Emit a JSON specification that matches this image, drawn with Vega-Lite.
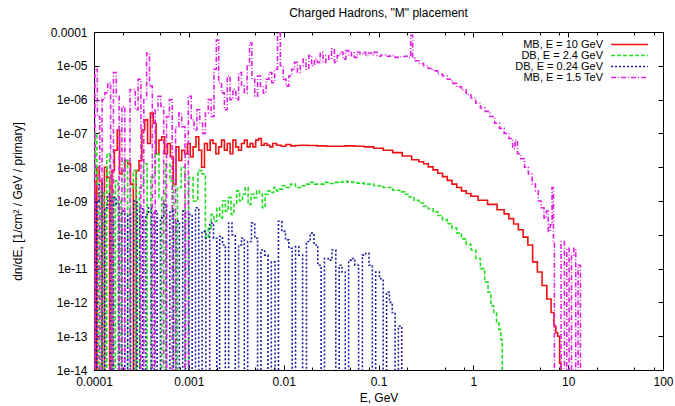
{
  "$schema": "https://vega.github.io/schema/vega-lite/v6.json",
  "width": 569,
  "height": 338,
  "autosize": {"type": "none"},
  "padding": {"left": 94, "top": 32, "right": 12, "bottom": 36},
  "background": "white",
  "config": {
    "font": "Liberation Sans",
    "view": {"stroke": "black", "strokeWidth": 1},
    "axis": {"grid": false, "domain": false, "labelFont": "Liberation Sans", "labelFontSize": 12, "labelColor": "black", "titleFont": "Liberation Sans", "titleFontSize": 12, "titleFontWeight": "normal", "titleColor": "black", "tickColor": "black", "labelFlush": false, "labelOverlap": false}
  },
  "title": {"text": "Charged Hadrons,  \"M\" placement", "fontSize": 12, "fontWeight": "normal", "font": "Liberation Sans", "offset": 6, "color": "black"},
  "datasets": {
    "d": [
      {"s":"MB, E = 10 GeV","E":1e-4,"v":3.98e-9},{"s":"MB, E = 10 GeV","E":1.047e-4,"v":1e-16},{"s":"MB, E = 10 GeV","E":1.096e-4,"v":1e-8},{"s":"MB, E = 10 GeV","E":1.175e-4,"v":3.98e-9},{"s":"MB, E = 10 GeV","E":1.259e-4,"v":1e-16},{"s":"MB, E = 10 GeV","E":1.318e-4,"v":1e-8},{"s":"MB, E = 10 GeV","E":1.413e-4,"v":5.01e-9},{"s":"MB, E = 10 GeV","E":1.514e-4,"v":1e-16},{"s":"MB, E = 10 GeV","E":1.585e-4,"v":7.94e-9},{"s":"MB, E = 10 GeV","E":1.698e-4,"v":3.16e-8},{"s":"MB, E = 10 GeV","E":1.82e-4,"v":1.26e-7},{"s":"MB, E = 10 GeV","E":1.905e-4,"v":6.31e-9},{"s":"MB, E = 10 GeV","E":2.042e-4,"v":7.94e-9},{"s":"MB, E = 10 GeV","E":2.188e-4,"v":1.58e-8},{"s":"MB, E = 10 GeV","E":2.344e-4,"v":1.26e-8},{"s":"MB, E = 10 GeV","E":2.512e-4,"v":3.16e-9},{"s":"MB, E = 10 GeV","E":2.692e-4,"v":1e-16},{"s":"MB, E = 10 GeV","E":2.884e-4,"v":7.94e-9},{"s":"MB, E = 10 GeV","E":3.09e-4,"v":1.58e-8},{"s":"MB, E = 10 GeV","E":3.311e-4,"v":1.26e-7},{"s":"MB, E = 10 GeV","E":3.548e-4,"v":2.51e-7},{"s":"MB, E = 10 GeV","E":3.802e-4,"v":5.01e-8},{"s":"MB, E = 10 GeV","E":4.074e-4,"v":3.98e-7},{"s":"MB, E = 10 GeV","E":4.365e-4,"v":2e-7},{"s":"MB, E = 10 GeV","E":4.677e-4,"v":2.51e-8},{"s":"MB, E = 10 GeV","E":5.012e-4,"v":6.31e-8},{"s":"MB, E = 10 GeV","E":5.37e-4,"v":7.94e-8},{"s":"MB, E = 10 GeV","E":5.754e-4,"v":2.51e-8},{"s":"MB, E = 10 GeV","E":6.166e-4,"v":5.01e-8},{"s":"MB, E = 10 GeV","E":6.607e-4,"v":2e-8},{"s":"MB, E = 10 GeV","E":7.079e-4,"v":3.16e-9},{"s":"MB, E = 10 GeV","E":7.586e-4,"v":3.98e-8},{"s":"MB, E = 10 GeV","E":8.128e-4,"v":1.58e-8},{"s":"MB, E = 10 GeV","E":8.71e-4,"v":3.16e-8},{"s":"MB, E = 10 GeV","E":9.333e-4,"v":2.51e-8},{"s":"MB, E = 10 GeV","E":1e-3,"v":5.01e-8},{"s":"MB, E = 10 GeV","E":1.072e-3,"v":2e-8},{"s":"MB, E = 10 GeV","E":1.148e-3,"v":3.98e-8},{"s":"MB, E = 10 GeV","E":1.23e-3,"v":7.94e-8},{"s":"MB, E = 10 GeV","E":1.318e-3,"v":3.16e-8},{"s":"MB, E = 10 GeV","E":1.413e-3,"v":1e-8},{"s":"MB, E = 10 GeV","E":1.514e-3,"v":5.01e-8},{"s":"MB, E = 10 GeV","E":1.622e-3,"v":3.16e-8},{"s":"MB, E = 10 GeV","E":1.738e-3,"v":6.31e-8},{"s":"MB, E = 10 GeV","E":1.862e-3,"v":5.01e-8},{"s":"MB, E = 10 GeV","E":1.995e-3,"v":2.51e-8},{"s":"MB, E = 10 GeV","E":2.138e-3,"v":3.98e-8},{"s":"MB, E = 10 GeV","E":2.291e-3,"v":6.31e-8},{"s":"MB, E = 10 GeV","E":2.455e-3,"v":3.16e-8},{"s":"MB, E = 10 GeV","E":2.63e-3,"v":5.01e-8},{"s":"MB, E = 10 GeV","E":2.818e-3,"v":2.51e-8},{"s":"MB, E = 10 GeV","E":3.02e-3,"v":6.31e-8},{"s":"MB, E = 10 GeV","E":3.236e-3,"v":3.98e-8},{"s":"MB, E = 10 GeV","E":3.467e-3,"v":3.16e-8},{"s":"MB, E = 10 GeV","E":3.715e-3,"v":5.01e-8},{"s":"MB, E = 10 GeV","E":3.981e-3,"v":6.31e-8},{"s":"MB, E = 10 GeV","E":4.266e-3,"v":3.98e-8},{"s":"MB, E = 10 GeV","E":4.571e-3,"v":5.01e-8},{"s":"MB, E = 10 GeV","E":4.898e-3,"v":3.98e-8},{"s":"MB, E = 10 GeV","E":5.248e-3,"v":6.31e-8},{"s":"MB, E = 10 GeV","E":5.623e-3,"v":7.08e-8},{"s":"MB, E = 10 GeV","E":6.026e-3,"v":4.47e-8},{"s":"MB, E = 10 GeV","E":6.457e-3,"v":5.01e-8},{"s":"MB, E = 10 GeV","E":6.918e-3,"v":4.47e-8},{"s":"MB, E = 10 GeV","E":7.413e-3,"v":3.98e-8},{"s":"MB, E = 10 GeV","E":7.943e-3,"v":5.01e-8},{"s":"MB, E = 10 GeV","E":8.913e-3,"v":4.47e-8},{"s":"MB, E = 10 GeV","E":0.01,"v":4.17e-8},{"s":"MB, E = 10 GeV","E":0.01122,"v":4.68e-8},{"s":"MB, E = 10 GeV","E":0.01259,"v":4.27e-8},{"s":"MB, E = 10 GeV","E":0.01413,"v":4.37e-8},{"s":"MB, E = 10 GeV","E":0.01585,"v":4.47e-8},{"s":"MB, E = 10 GeV","E":0.01995,"v":4.37e-8},{"s":"MB, E = 10 GeV","E":0.02512,"v":4.27e-8},{"s":"MB, E = 10 GeV","E":0.03162,"v":4.17e-8},{"s":"MB, E = 10 GeV","E":0.03981,"v":4.17e-8},{"s":"MB, E = 10 GeV","E":0.05012,"v":4.27e-8},{"s":"MB, E = 10 GeV","E":0.0631,"v":4.17e-8},{"s":"MB, E = 10 GeV","E":0.07943,"v":3.98e-8},{"s":"MB, E = 10 GeV","E":0.1,"v":3.63e-8},{"s":"MB, E = 10 GeV","E":0.1259,"v":3.16e-8},{"s":"MB, E = 10 GeV","E":0.1585,"v":2.69e-8},{"s":"MB, E = 10 GeV","E":0.1995,"v":2.14e-8},{"s":"MB, E = 10 GeV","E":0.2512,"v":1.66e-8},{"s":"MB, E = 10 GeV","E":0.2818,"v":1.45e-8},{"s":"MB, E = 10 GeV","E":0.3162,"v":1.26e-8},{"s":"MB, E = 10 GeV","E":0.3548,"v":1.02e-8},{"s":"MB, E = 10 GeV","E":0.3981,"v":8.32e-9},{"s":"MB, E = 10 GeV","E":0.4467,"v":6.61e-9},{"s":"MB, E = 10 GeV","E":0.5012,"v":5.25e-9},{"s":"MB, E = 10 GeV","E":0.5623,"v":4.07e-9},{"s":"MB, E = 10 GeV","E":0.631,"v":3.16e-9},{"s":"MB, E = 10 GeV","E":0.7079,"v":2.51e-9},{"s":"MB, E = 10 GeV","E":0.7943,"v":2e-9},{"s":"MB, E = 10 GeV","E":0.8913,"v":1.66e-9},{"s":"MB, E = 10 GeV","E":1,"v":1.38e-9},{"s":"MB, E = 10 GeV","E":1.259,"v":1.05e-9},{"s":"MB, E = 10 GeV","E":1.585,"v":7.94e-10},{"s":"MB, E = 10 GeV","E":1.995,"v":5.5e-10},{"s":"MB, E = 10 GeV","E":2.239,"v":4.17e-10},{"s":"MB, E = 10 GeV","E":2.512,"v":3.02e-10},{"s":"MB, E = 10 GeV","E":2.818,"v":2.09e-10},{"s":"MB, E = 10 GeV","E":3.162,"v":1.41e-10},{"s":"MB, E = 10 GeV","E":3.548,"v":8.51e-11},{"s":"MB, E = 10 GeV","E":3.981,"v":5.01e-11},{"s":"MB, E = 10 GeV","E":4.467,"v":1.58e-11},{"s":"MB, E = 10 GeV","E":5.012,"v":7.94e-12},{"s":"MB, E = 10 GeV","E":5.623,"v":3.16e-12},{"s":"MB, E = 10 GeV","E":6.31,"v":1.26e-12},{"s":"MB, E = 10 GeV","E":6.918,"v":5.01e-13},{"s":"MB, E = 10 GeV","E":7.244,"v":2e-13},{"s":"MB, E = 10 GeV","E":7.586,"v":1.26e-13},{"s":"MB, E = 10 GeV","E":7.943,"v":1e-13},{"s":"MB, E = 10 GeV","E":8.318,"v":1.58e-14},{"s":"MB, E = 10 GeV","E":8.511,"v":1e-16},

      {"s":"DB, E = 2.4 GeV","E":1e-4,"v":5.01e-9},{"s":"DB, E = 2.4 GeV","E":1.047e-4,"v":1e-7},{"s":"DB, E = 2.4 GeV","E":1.096e-4,"v":3.16e-9},{"s":"DB, E = 2.4 GeV","E":1.148e-4,"v":1e-16},{"s":"DB, E = 2.4 GeV","E":1.23e-4,"v":2e-9},{"s":"DB, E = 2.4 GeV","E":1.318e-4,"v":1e-16},{"s":"DB, E = 2.4 GeV","E":1.413e-4,"v":2.51e-8},{"s":"DB, E = 2.4 GeV","E":1.514e-4,"v":1.58e-9},{"s":"DB, E = 2.4 GeV","E":1.622e-4,"v":1e-16},{"s":"DB, E = 2.4 GeV","E":1.738e-4,"v":3.98e-9},{"s":"DB, E = 2.4 GeV","E":1.862e-4,"v":1e-16},{"s":"DB, E = 2.4 GeV","E":1.995e-4,"v":1e-9},{"s":"DB, E = 2.4 GeV","E":2.188e-4,"v":1.58e-8},{"s":"DB, E = 2.4 GeV","E":2.344e-4,"v":1e-16},{"s":"DB, E = 2.4 GeV","E":2.512e-4,"v":2.51e-9},{"s":"DB, E = 2.4 GeV","E":2.692e-4,"v":7.94e-9},{"s":"DB, E = 2.4 GeV","E":2.884e-4,"v":1e-16},{"s":"DB, E = 2.4 GeV","E":3.162e-4,"v":2.51e-9},{"s":"DB, E = 2.4 GeV","E":3.467e-4,"v":1.26e-8},{"s":"DB, E = 2.4 GeV","E":3.802e-4,"v":1e-16},{"s":"DB, E = 2.4 GeV","E":4.169e-4,"v":5.01e-9},{"s":"DB, E = 2.4 GeV","E":4.677e-4,"v":2.51e-8},{"s":"DB, E = 2.4 GeV","E":5.012e-4,"v":1.26e-9},{"s":"DB, E = 2.4 GeV","E":5.37e-4,"v":1e-16},{"s":"DB, E = 2.4 GeV","E":6.026e-4,"v":1.26e-8},{"s":"DB, E = 2.4 GeV","E":6.607e-4,"v":3.98e-9},{"s":"DB, E = 2.4 GeV","E":7.244e-4,"v":1e-16},{"s":"DB, E = 2.4 GeV","E":7.943e-4,"v":2.51e-9},{"s":"DB, E = 2.4 GeV","E":8.71e-4,"v":1e-8},{"s":"DB, E = 2.4 GeV","E":9.55e-4,"v":1e-16},{"s":"DB, E = 2.4 GeV","E":1.047e-3,"v":5.01e-9},{"s":"DB, E = 2.4 GeV","E":1.175e-3,"v":1e-9},{"s":"DB, E = 2.4 GeV","E":1.318e-3,"v":7.94e-9},{"s":"DB, E = 2.4 GeV","E":1.445e-3,"v":6.31e-9},{"s":"DB, E = 2.4 GeV","E":1.549e-3,"v":7.94e-11},{"s":"DB, E = 2.4 GeV","E":1.66e-3,"v":1.58e-10},{"s":"DB, E = 2.4 GeV","E":1.778e-3,"v":3.98e-10},{"s":"DB, E = 2.4 GeV","E":1.905e-3,"v":2.51e-10},{"s":"DB, E = 2.4 GeV","E":2.042e-3,"v":6.31e-10},{"s":"DB, E = 2.4 GeV","E":2.188e-3,"v":3.16e-10},{"s":"DB, E = 2.4 GeV","E":2.344e-3,"v":1e-9},{"s":"DB, E = 2.4 GeV","E":2.512e-3,"v":5.01e-10},{"s":"DB, E = 2.4 GeV","E":2.692e-3,"v":1.26e-9},{"s":"DB, E = 2.4 GeV","E":2.884e-3,"v":3.98e-10},{"s":"DB, E = 2.4 GeV","E":3.09e-3,"v":7.94e-10},{"s":"DB, E = 2.4 GeV","E":3.311e-3,"v":2e-9},{"s":"DB, E = 2.4 GeV","E":3.548e-3,"v":1e-9},{"s":"DB, E = 2.4 GeV","E":3.802e-3,"v":1.58e-9},{"s":"DB, E = 2.4 GeV","E":4.074e-3,"v":2.51e-9},{"s":"DB, E = 2.4 GeV","E":4.365e-3,"v":7.94e-10},{"s":"DB, E = 2.4 GeV","E":4.677e-3,"v":1.58e-9},{"s":"DB, E = 2.4 GeV","E":5.012e-3,"v":1.26e-9},{"s":"DB, E = 2.4 GeV","E":5.37e-3,"v":2e-9},{"s":"DB, E = 2.4 GeV","E":5.754e-3,"v":1.58e-9},{"s":"DB, E = 2.4 GeV","E":6.166e-3,"v":6.31e-10},{"s":"DB, E = 2.4 GeV","E":6.607e-3,"v":1.58e-9},{"s":"DB, E = 2.4 GeV","E":7.079e-3,"v":2e-9},{"s":"DB, E = 2.4 GeV","E":7.586e-3,"v":1.78e-9},{"s":"DB, E = 2.4 GeV","E":8.128e-3,"v":2.51e-9},{"s":"DB, E = 2.4 GeV","E":8.71e-3,"v":2e-9},{"s":"DB, E = 2.4 GeV","E":9.333e-3,"v":2.24e-9},{"s":"DB, E = 2.4 GeV","E":0.01,"v":2.82e-9},{"s":"DB, E = 2.4 GeV","E":0.01122,"v":2.51e-9},{"s":"DB, E = 2.4 GeV","E":0.01259,"v":3.16e-9},{"s":"DB, E = 2.4 GeV","E":0.01413,"v":2.51e-9},{"s":"DB, E = 2.4 GeV","E":0.01585,"v":2.82e-9},{"s":"DB, E = 2.4 GeV","E":0.01778,"v":3.16e-9},{"s":"DB, E = 2.4 GeV","E":0.01995,"v":3.55e-9},{"s":"DB, E = 2.4 GeV","E":0.02239,"v":3.16e-9},{"s":"DB, E = 2.4 GeV","E":0.02512,"v":3.16e-9},{"s":"DB, E = 2.4 GeV","E":0.02818,"v":3.55e-9},{"s":"DB, E = 2.4 GeV","E":0.03162,"v":3.31e-9},{"s":"DB, E = 2.4 GeV","E":0.03548,"v":3.55e-9},{"s":"DB, E = 2.4 GeV","E":0.03981,"v":3.63e-9},{"s":"DB, E = 2.4 GeV","E":0.04467,"v":3.8e-9},{"s":"DB, E = 2.4 GeV","E":0.05012,"v":3.63e-9},{"s":"DB, E = 2.4 GeV","E":0.05623,"v":3.55e-9},{"s":"DB, E = 2.4 GeV","E":0.0631,"v":3.39e-9},{"s":"DB, E = 2.4 GeV","E":0.07943,"v":3.16e-9},{"s":"DB, E = 2.4 GeV","E":0.1,"v":2.82e-9},{"s":"DB, E = 2.4 GeV","E":0.1259,"v":2.51e-9},{"s":"DB, E = 2.4 GeV","E":0.1585,"v":2.09e-9},{"s":"DB, E = 2.4 GeV","E":0.1778,"v":1.86e-9},{"s":"DB, E = 2.4 GeV","E":0.1995,"v":1.58e-9},{"s":"DB, E = 2.4 GeV","E":0.2239,"v":1.32e-9},{"s":"DB, E = 2.4 GeV","E":0.2512,"v":1.05e-9},{"s":"DB, E = 2.4 GeV","E":0.2818,"v":8.71e-10},{"s":"DB, E = 2.4 GeV","E":0.3162,"v":7.08e-10},{"s":"DB, E = 2.4 GeV","E":0.3548,"v":5.89e-10},{"s":"DB, E = 2.4 GeV","E":0.3981,"v":4.79e-10},{"s":"DB, E = 2.4 GeV","E":0.4467,"v":3.72e-10},{"s":"DB, E = 2.4 GeV","E":0.5012,"v":2.82e-10},{"s":"DB, E = 2.4 GeV","E":0.5623,"v":2.14e-10},{"s":"DB, E = 2.4 GeV","E":0.631,"v":1.58e-10},{"s":"DB, E = 2.4 GeV","E":0.7079,"v":1.12e-10},{"s":"DB, E = 2.4 GeV","E":0.7943,"v":7.59e-11},{"s":"DB, E = 2.4 GeV","E":0.8913,"v":5.25e-11},{"s":"DB, E = 2.4 GeV","E":1,"v":3.55e-11},{"s":"DB, E = 2.4 GeV","E":1.122,"v":2e-11},{"s":"DB, E = 2.4 GeV","E":1.259,"v":1e-11},{"s":"DB, E = 2.4 GeV","E":1.38,"v":3.98e-12},{"s":"DB, E = 2.4 GeV","E":1.479,"v":2e-12},{"s":"DB, E = 2.4 GeV","E":1.585,"v":7.94e-13},{"s":"DB, E = 2.4 GeV","E":1.698,"v":5.01e-13},{"s":"DB, E = 2.4 GeV","E":1.82,"v":2.51e-13},{"s":"DB, E = 2.4 GeV","E":1.905,"v":1.58e-13},{"s":"DB, E = 2.4 GeV","E":1.995,"v":7.94e-14},{"s":"DB, E = 2.4 GeV","E":2.042,"v":1e-16},

      {"s":"DB, E = 0.24 GeV","E":1e-4,"v":1.58e-9},{"s":"DB, E = 0.24 GeV","E":1.047e-4,"v":1e-16},{"s":"DB, E = 0.24 GeV","E":1.096e-4,"v":1e-9},{"s":"DB, E = 0.24 GeV","E":1.175e-4,"v":3.16e-9},{"s":"DB, E = 0.24 GeV","E":1.259e-4,"v":1e-16},{"s":"DB, E = 0.24 GeV","E":1.349e-4,"v":6.31e-10},{"s":"DB, E = 0.24 GeV","E":1.445e-4,"v":1.58e-9},{"s":"DB, E = 0.24 GeV","E":1.549e-4,"v":1e-16},{"s":"DB, E = 0.24 GeV","E":1.66e-4,"v":1.26e-9},{"s":"DB, E = 0.24 GeV","E":1.778e-4,"v":7.94e-10},{"s":"DB, E = 0.24 GeV","E":1.905e-4,"v":1e-16},{"s":"DB, E = 0.24 GeV","E":2.042e-4,"v":5.01e-10},{"s":"DB, E = 0.24 GeV","E":2.188e-4,"v":1e-16},{"s":"DB, E = 0.24 GeV","E":2.344e-4,"v":3.98e-10},{"s":"DB, E = 0.24 GeV","E":2.512e-4,"v":1e-16},{"s":"DB, E = 0.24 GeV","E":2.754e-4,"v":1e-9},{"s":"DB, E = 0.24 GeV","E":2.951e-4,"v":1e-16},{"s":"DB, E = 0.24 GeV","E":3.162e-4,"v":6.31e-10},{"s":"DB, E = 0.24 GeV","E":3.388e-4,"v":1e-16},{"s":"DB, E = 0.24 GeV","E":3.631e-4,"v":3.98e-10},{"s":"DB, E = 0.24 GeV","E":3.89e-4,"v":6.31e-10},{"s":"DB, E = 0.24 GeV","E":4.169e-4,"v":1e-16},{"s":"DB, E = 0.24 GeV","E":4.467e-4,"v":5.01e-10},{"s":"DB, E = 0.24 GeV","E":4.786e-4,"v":1e-16},{"s":"DB, E = 0.24 GeV","E":5.248e-4,"v":3.16e-10},{"s":"DB, E = 0.24 GeV","E":5.623e-4,"v":7.94e-10},{"s":"DB, E = 0.24 GeV","E":6.026e-4,"v":1e-16},{"s":"DB, E = 0.24 GeV","E":6.607e-4,"v":5.01e-10},{"s":"DB, E = 0.24 GeV","E":7.079e-4,"v":1e-16},{"s":"DB, E = 0.24 GeV","E":7.586e-4,"v":2.51e-10},{"s":"DB, E = 0.24 GeV","E":8.318e-4,"v":1e-16},{"s":"DB, E = 0.24 GeV","E":8.913e-4,"v":5.01e-10},{"s":"DB, E = 0.24 GeV","E":9.55e-4,"v":1e-16},{"s":"DB, E = 0.24 GeV","E":1.047e-3,"v":3.98e-10},{"s":"DB, E = 0.24 GeV","E":1.122e-3,"v":1e-16},{"s":"DB, E = 0.24 GeV","E":1.23e-3,"v":6.31e-10},{"s":"DB, E = 0.24 GeV","E":1.318e-3,"v":1e-16},{"s":"DB, E = 0.24 GeV","E":1.445e-3,"v":1.26e-10},{"s":"DB, E = 0.24 GeV","E":1.585e-3,"v":1e-16},{"s":"DB, E = 0.24 GeV","E":1.738e-3,"v":2.24e-10},{"s":"DB, E = 0.24 GeV","E":1.905e-3,"v":7.94e-11},{"s":"DB, E = 0.24 GeV","E":2.042e-3,"v":1e-16},{"s":"DB, E = 0.24 GeV","E":2.188e-3,"v":8.91e-11},{"s":"DB, E = 0.24 GeV","E":2.344e-3,"v":5.01e-11},{"s":"DB, E = 0.24 GeV","E":2.512e-3,"v":1e-16},{"s":"DB, E = 0.24 GeV","E":2.754e-3,"v":2.24e-10},{"s":"DB, E = 0.24 GeV","E":2.951e-3,"v":1e-10},{"s":"DB, E = 0.24 GeV","E":3.236e-3,"v":1e-16},{"s":"DB, E = 0.24 GeV","E":3.467e-3,"v":5.01e-11},{"s":"DB, E = 0.24 GeV","E":3.715e-3,"v":7.94e-11},{"s":"DB, E = 0.24 GeV","E":3.981e-3,"v":1e-16},{"s":"DB, E = 0.24 GeV","E":4.365e-3,"v":6.31e-11},{"s":"DB, E = 0.24 GeV","E":4.786e-3,"v":2.24e-10},{"s":"DB, E = 0.24 GeV","E":5.129e-3,"v":7.94e-11},{"s":"DB, E = 0.24 GeV","E":5.495e-3,"v":1e-16},{"s":"DB, E = 0.24 GeV","E":6.026e-3,"v":3.55e-11},{"s":"DB, E = 0.24 GeV","E":6.607e-3,"v":2.51e-11},{"s":"DB, E = 0.24 GeV","E":7.079e-3,"v":1e-16},{"s":"DB, E = 0.24 GeV","E":7.762e-3,"v":1.58e-11},{"s":"DB, E = 0.24 GeV","E":8.511e-3,"v":1e-16},{"s":"DB, E = 0.24 GeV","E":9.12e-3,"v":2.51e-10},{"s":"DB, E = 0.24 GeV","E":0.01,"v":1.26e-10},{"s":"DB, E = 0.24 GeV","E":0.01096,"v":7.08e-11},{"s":"DB, E = 0.24 GeV","E":0.01175,"v":3.98e-11},{"s":"DB, E = 0.24 GeV","E":0.01288,"v":1e-16},{"s":"DB, E = 0.24 GeV","E":0.0138,"v":4.47e-11},{"s":"DB, E = 0.24 GeV","E":0.01514,"v":2.51e-11},{"s":"DB, E = 0.24 GeV","E":0.0166,"v":1e-16},{"s":"DB, E = 0.24 GeV","E":0.0182,"v":6.31e-11},{"s":"DB, E = 0.24 GeV","E":0.01995,"v":1.12e-10},{"s":"DB, E = 0.24 GeV","E":0.02188,"v":5.01e-11},{"s":"DB, E = 0.24 GeV","E":0.02399,"v":1.26e-11},{"s":"DB, E = 0.24 GeV","E":0.0257,"v":1e-16},{"s":"DB, E = 0.24 GeV","E":0.02818,"v":2e-11},{"s":"DB, E = 0.24 GeV","E":0.0309,"v":1.78e-11},{"s":"DB, E = 0.24 GeV","E":0.03388,"v":3.55e-11},{"s":"DB, E = 0.24 GeV","E":0.03715,"v":1e-16},{"s":"DB, E = 0.24 GeV","E":0.03981,"v":1.26e-11},{"s":"DB, E = 0.24 GeV","E":0.04266,"v":7.94e-12},{"s":"DB, E = 0.24 GeV","E":0.04677,"v":1e-16},{"s":"DB, E = 0.24 GeV","E":0.05012,"v":1.78e-11},{"s":"DB, E = 0.24 GeV","E":0.0537,"v":2e-11},{"s":"DB, E = 0.24 GeV","E":0.05888,"v":1.26e-11},{"s":"DB, E = 0.24 GeV","E":0.06457,"v":1e-16},{"s":"DB, E = 0.24 GeV","E":0.07079,"v":2.51e-11},{"s":"DB, E = 0.24 GeV","E":0.07586,"v":2.82e-11},{"s":"DB, E = 0.24 GeV","E":0.08318,"v":1.26e-11},{"s":"DB, E = 0.24 GeV","E":0.08913,"v":1e-16},{"s":"DB, E = 0.24 GeV","E":0.09772,"v":7.94e-12},{"s":"DB, E = 0.24 GeV","E":0.1072,"v":5.01e-12},{"s":"DB, E = 0.24 GeV","E":0.1175,"v":1e-16},{"s":"DB, E = 0.24 GeV","E":0.1259,"v":2e-12},{"s":"DB, E = 0.24 GeV","E":0.1349,"v":1e-12},{"s":"DB, E = 0.24 GeV","E":0.1445,"v":5.01e-13},{"s":"DB, E = 0.24 GeV","E":0.1549,"v":1e-16},{"s":"DB, E = 0.24 GeV","E":0.1698,"v":2e-13},{"s":"DB, E = 0.24 GeV","E":0.182,"v":1e-16},

      {"s":"MB, E = 1.5 TeV","E":1e-4,"v":1e-16},{"s":"MB, E = 1.5 TeV","E":1.047e-4,"v":7.94e-6},{"s":"MB, E = 1.5 TeV","E":1.122e-4,"v":3.16e-7},{"s":"MB, E = 1.5 TeV","E":1.175e-4,"v":1e-16},{"s":"MB, E = 1.5 TeV","E":1.259e-4,"v":1e-6},{"s":"MB, E = 1.5 TeV","E":1.349e-4,"v":1.58e-6},{"s":"MB, E = 1.5 TeV","E":1.445e-4,"v":3.16e-6},{"s":"MB, E = 1.5 TeV","E":1.549e-4,"v":1e-16},{"s":"MB, E = 1.5 TeV","E":1.66e-4,"v":6.31e-6},{"s":"MB, E = 1.5 TeV","E":1.778e-4,"v":1.26e-6},{"s":"MB, E = 1.5 TeV","E":1.905e-4,"v":1e-16},{"s":"MB, E = 1.5 TeV","E":2.042e-4,"v":6.31e-7},{"s":"MB, E = 1.5 TeV","E":2.188e-4,"v":1e-16},{"s":"MB, E = 1.5 TeV","E":2.63e-4,"v":2e-6},{"s":"MB, E = 1.5 TeV","E":2.818e-4,"v":5.01e-7},{"s":"MB, E = 1.5 TeV","E":3.02e-4,"v":3.98e-6},{"s":"MB, E = 1.5 TeV","E":3.236e-4,"v":1e-16},{"s":"MB, E = 1.5 TeV","E":3.467e-4,"v":1e-6},{"s":"MB, E = 1.5 TeV","E":3.715e-4,"v":2.4e-5},{"s":"MB, E = 1.5 TeV","E":3.981e-4,"v":2.51e-6},{"s":"MB, E = 1.5 TeV","E":4.266e-4,"v":1e-16},{"s":"MB, E = 1.5 TeV","E":4.571e-4,"v":5.01e-7},{"s":"MB, E = 1.5 TeV","E":4.898e-4,"v":1.26e-6},{"s":"MB, E = 1.5 TeV","E":5.248e-4,"v":6.31e-7},{"s":"MB, E = 1.5 TeV","E":5.623e-4,"v":1e-16},{"s":"MB, E = 1.5 TeV","E":6.026e-4,"v":3.16e-7},{"s":"MB, E = 1.5 TeV","E":6.457e-4,"v":1e-6},{"s":"MB, E = 1.5 TeV","E":6.918e-4,"v":1e-16},{"s":"MB, E = 1.5 TeV","E":7.586e-4,"v":1.58e-7},{"s":"MB, E = 1.5 TeV","E":8.128e-4,"v":3.98e-7},{"s":"MB, E = 1.5 TeV","E":8.71e-4,"v":1.58e-7},{"s":"MB, E = 1.5 TeV","E":9.55e-4,"v":1e-16},{"s":"MB, E = 1.5 TeV","E":1.023e-3,"v":1.26e-6},{"s":"MB, E = 1.5 TeV","E":1.096e-3,"v":2.51e-7},{"s":"MB, E = 1.5 TeV","E":1.175e-3,"v":1.26e-7},{"s":"MB, E = 1.5 TeV","E":1.259e-3,"v":5.01e-7},{"s":"MB, E = 1.5 TeV","E":1.349e-3,"v":2e-7},{"s":"MB, E = 1.5 TeV","E":1.445e-3,"v":1e-7},{"s":"MB, E = 1.5 TeV","E":1.549e-3,"v":3.98e-7},{"s":"MB, E = 1.5 TeV","E":1.66e-3,"v":1e-6},{"s":"MB, E = 1.5 TeV","E":1.778e-3,"v":3.16e-7},{"s":"MB, E = 1.5 TeV","E":1.905e-3,"v":7.94e-6},{"s":"MB, E = 1.5 TeV","E":1.995e-3,"v":5.75e-5},{"s":"MB, E = 1.5 TeV","E":2.138e-3,"v":3.16e-6},{"s":"MB, E = 1.5 TeV","E":2.291e-3,"v":1.58e-6},{"s":"MB, E = 1.5 TeV","E":2.455e-3,"v":5.01e-7},{"s":"MB, E = 1.5 TeV","E":2.63e-3,"v":5.01e-6},{"s":"MB, E = 1.5 TeV","E":2.818e-3,"v":1e-6},{"s":"MB, E = 1.5 TeV","E":3.02e-3,"v":2e-6},{"s":"MB, E = 1.5 TeV","E":3.236e-3,"v":1e-6},{"s":"MB, E = 1.5 TeV","E":3.467e-3,"v":6.31e-6},{"s":"MB, E = 1.5 TeV","E":3.715e-3,"v":2.51e-6},{"s":"MB, E = 1.5 TeV","E":3.981e-3,"v":1.58e-6},{"s":"MB, E = 1.5 TeV","E":4.266e-3,"v":1e-5},{"s":"MB, E = 1.5 TeV","E":4.467e-3,"v":4.68e-5},{"s":"MB, E = 1.5 TeV","E":4.786e-3,"v":3.98e-6},{"s":"MB, E = 1.5 TeV","E":5.129e-3,"v":1.26e-6},{"s":"MB, E = 1.5 TeV","E":5.495e-3,"v":5.01e-6},{"s":"MB, E = 1.5 TeV","E":5.888e-3,"v":2.51e-6},{"s":"MB, E = 1.5 TeV","E":6.31e-3,"v":1.58e-6},{"s":"MB, E = 1.5 TeV","E":6.761e-3,"v":3.98e-6},{"s":"MB, E = 1.5 TeV","E":7.244e-3,"v":6.31e-6},{"s":"MB, E = 1.5 TeV","E":7.762e-3,"v":3.16e-6},{"s":"MB, E = 1.5 TeV","E":8.318e-3,"v":7.94e-6},{"s":"MB, E = 1.5 TeV","E":8.913e-3,"v":9.33e-5},{"s":"MB, E = 1.5 TeV","E":9.55e-3,"v":1e-5},{"s":"MB, E = 1.5 TeV","E":0.01023,"v":3.98e-6},{"s":"MB, E = 1.5 TeV","E":0.01096,"v":2.51e-6},{"s":"MB, E = 1.5 TeV","E":0.01175,"v":5.01e-6},{"s":"MB, E = 1.5 TeV","E":0.01259,"v":7.94e-6},{"s":"MB, E = 1.5 TeV","E":0.01349,"v":1.26e-5},{"s":"MB, E = 1.5 TeV","E":0.01445,"v":6.31e-6},{"s":"MB, E = 1.5 TeV","E":0.01549,"v":1e-5},{"s":"MB, E = 1.5 TeV","E":0.0166,"v":1.58e-5},{"s":"MB, E = 1.5 TeV","E":0.01778,"v":7.94e-6},{"s":"MB, E = 1.5 TeV","E":0.01905,"v":2e-5},{"s":"MB, E = 1.5 TeV","E":0.02042,"v":1e-5},{"s":"MB, E = 1.5 TeV","E":0.02188,"v":1.58e-5},{"s":"MB, E = 1.5 TeV","E":0.02344,"v":1.26e-5},{"s":"MB, E = 1.5 TeV","E":0.02512,"v":2.51e-5},{"s":"MB, E = 1.5 TeV","E":0.02692,"v":1.26e-5},{"s":"MB, E = 1.5 TeV","E":0.02884,"v":2e-5},{"s":"MB, E = 1.5 TeV","E":0.0309,"v":1.58e-5},{"s":"MB, E = 1.5 TeV","E":0.03311,"v":3.16e-5},{"s":"MB, E = 1.5 TeV","E":0.03548,"v":1.26e-5},{"s":"MB, E = 1.5 TeV","E":0.03802,"v":2e-5},{"s":"MB, E = 1.5 TeV","E":0.04074,"v":2.51e-5},{"s":"MB, E = 1.5 TeV","E":0.04365,"v":1.58e-5},{"s":"MB, E = 1.5 TeV","E":0.04677,"v":2.82e-5},{"s":"MB, E = 1.5 TeV","E":0.05012,"v":2e-5},{"s":"MB, E = 1.5 TeV","E":0.0537,"v":2.51e-5},{"s":"MB, E = 1.5 TeV","E":0.05754,"v":1.78e-5},{"s":"MB, E = 1.5 TeV","E":0.06166,"v":2.51e-5},{"s":"MB, E = 1.5 TeV","E":0.06607,"v":2.24e-5},{"s":"MB, E = 1.5 TeV","E":0.07079,"v":2.51e-5},{"s":"MB, E = 1.5 TeV","E":0.07586,"v":2e-5},{"s":"MB, E = 1.5 TeV","E":0.08128,"v":2.4e-5},{"s":"MB, E = 1.5 TeV","E":0.0871,"v":2.09e-5},{"s":"MB, E = 1.5 TeV","E":0.09333,"v":2.51e-5},{"s":"MB, E = 1.5 TeV","E":0.1,"v":1.91e-5},{"s":"MB, E = 1.5 TeV","E":0.1122,"v":2.09e-5},{"s":"MB, E = 1.5 TeV","E":0.1259,"v":1.91e-5},{"s":"MB, E = 1.5 TeV","E":0.1413,"v":2e-5},{"s":"MB, E = 1.5 TeV","E":0.1585,"v":1.78e-5},{"s":"MB, E = 1.5 TeV","E":0.1778,"v":1.86e-5},{"s":"MB, E = 1.5 TeV","E":0.1995,"v":1.91e-5},{"s":"MB, E = 1.5 TeV","E":0.2138,"v":1.78e-5},{"s":"MB, E = 1.5 TeV","E":0.2239,"v":7.94e-5},{"s":"MB, E = 1.5 TeV","E":0.2344,"v":1.66e-5},{"s":"MB, E = 1.5 TeV","E":0.2512,"v":1.41e-5},{"s":"MB, E = 1.5 TeV","E":0.2818,"v":1.17e-5},{"s":"MB, E = 1.5 TeV","E":0.3162,"v":1e-5},{"s":"MB, E = 1.5 TeV","E":0.3548,"v":8.32e-6},{"s":"MB, E = 1.5 TeV","E":0.3981,"v":7.08e-6},{"s":"MB, E = 1.5 TeV","E":0.4467,"v":5.62e-6},{"s":"MB, E = 1.5 TeV","E":0.5012,"v":5.01e-6},{"s":"MB, E = 1.5 TeV","E":0.5623,"v":3.98e-6},{"s":"MB, E = 1.5 TeV","E":0.631,"v":3.02e-6},{"s":"MB, E = 1.5 TeV","E":0.7079,"v":2.4e-6},{"s":"MB, E = 1.5 TeV","E":0.7943,"v":1.91e-6},{"s":"MB, E = 1.5 TeV","E":0.8913,"v":1.41e-6},{"s":"MB, E = 1.5 TeV","E":1,"v":1.12e-6},{"s":"MB, E = 1.5 TeV","E":1.122,"v":7.94e-7},{"s":"MB, E = 1.5 TeV","E":1.259,"v":5.62e-7},{"s":"MB, E = 1.5 TeV","E":1.413,"v":4.47e-7},{"s":"MB, E = 1.5 TeV","E":1.585,"v":3.16e-7},{"s":"MB, E = 1.5 TeV","E":1.778,"v":2e-7},{"s":"MB, E = 1.5 TeV","E":1.995,"v":1.41e-7},{"s":"MB, E = 1.5 TeV","E":2.239,"v":1e-7},{"s":"MB, E = 1.5 TeV","E":2.512,"v":7.08e-8},{"s":"MB, E = 1.5 TeV","E":2.692,"v":3.55e-8},{"s":"MB, E = 1.5 TeV","E":2.818,"v":6.31e-8},{"s":"MB, E = 1.5 TeV","E":3.02,"v":2.51e-8},{"s":"MB, E = 1.5 TeV","E":3.311,"v":1.78e-8},{"s":"MB, E = 1.5 TeV","E":3.631,"v":1e-8},{"s":"MB, E = 1.5 TeV","E":3.981,"v":6.31e-9},{"s":"MB, E = 1.5 TeV","E":4.365,"v":3.16e-9},{"s":"MB, E = 1.5 TeV","E":4.677,"v":2e-9},{"s":"MB, E = 1.5 TeV","E":5.012,"v":1e-9},{"s":"MB, E = 1.5 TeV","E":5.37,"v":6.31e-10},{"s":"MB, E = 1.5 TeV","E":5.754,"v":3.16e-10},{"s":"MB, E = 1.5 TeV","E":6.026,"v":5.01e-10},{"s":"MB, E = 1.5 TeV","E":6.31,"v":1.26e-10},{"s":"MB, E = 1.5 TeV","E":6.607,"v":2e-10},{"s":"MB, E = 1.5 TeV","E":6.918,"v":2.51e-9},{"s":"MB, E = 1.5 TeV","E":7.079,"v":6.31e-11},{"s":"MB, E = 1.5 TeV","E":7.244,"v":1e-16},{"s":"MB, E = 1.5 TeV","E":7.943,"v":1e-16},{"s":"MB, E = 1.5 TeV","E":8.913,"v":6.31e-11},{"s":"MB, E = 1.5 TeV","E":9.333,"v":1e-16},{"s":"MB, E = 1.5 TeV","E":10,"v":3.98e-11},{"s":"MB, E = 1.5 TeV","E":10.47,"v":1e-16},{"s":"MB, E = 1.5 TeV","E":11.22,"v":2.51e-11},{"s":"MB, E = 1.5 TeV","E":11.75,"v":3.98e-11},{"s":"MB, E = 1.5 TeV","E":12.3,"v":1e-16},{"s":"MB, E = 1.5 TeV","E":13.18,"v":1.26e-11},{"s":"MB, E = 1.5 TeV","E":13.8,"v":1e-16}
    ]
  },
  "data": {"name": "d"},
  "layer": [
    {
      "mark": {"type": "line", "interpolate": "step", "clip": true, "strokeWidth": 1.6},
      "encoding": {
        "x": {"field": "E", "type": "quantitative", "scale": {"type": "log", "domain": [0.0001, 100], "nice": false},
          "axis": {"orient": "bottom", "title": "E, GeV", "titlePadding": 3,
            "values": [0.0001,0.0002,0.0005,0.0008,0.001,0.002,0.005,0.008,0.01,0.02,0.05,0.08,0.1,0.2,0.5,0.8,1,2,5,8,10,20,50,80,100],
            "tickSize": {"condition": {"test": "abs(log(datum.value)/LN10 - round(log(datum.value)/LN10)) < 0.01", "value": -5}, "value": -3},
            "labelPadding": 11,
            "labelExpr": "abs(log(datum.value)/LN10 - round(log(datum.value)/LN10)) < 0.01 ? (datum.value < 1 ? format(datum.value, '.4~f') : format(datum.value, 'd')) : ''"}},
        "y": {"field": "v", "type": "quantitative", "scale": {"type": "log", "domain": [1e-14, 0.0001], "nice": false},
          "axis": {"orient": "left", "title": "dn/dE,  [1/cm² / GeV / primary]", "titlePadding": 26,
            "values": [1e-14,1e-13,1e-12,1e-11,1e-10,1e-9,1e-8,1e-7,1e-6,1e-5,1e-4],
            "tickSize": -5, "labelPadding": 12,
            "labelExpr": "datum.value > 5e-5 ? '0.0001' : '1e-' + (round(-log(datum.value)/LN10) < 10 ? '0' : '') + round(-log(datum.value)/LN10)"}},
        "color": {"field": "s", "type": "nominal",
          "scale": {"domain": ["MB, E = 10 GeV", "DB, E = 2.4 GeV", "DB, E = 0.24 GeV", "MB, E = 1.5 TeV"], "range": ["#ee1111", "#22dd22", "#1a1aa0", "#e020e0"]},
          "legend": {"title": null, "orient": "none", "legendX": 530, "legendY": 7, "padding": 0, "symbolType": "M-4.6,0H4.6", "symbolSize": 64, "symbolStrokeWidth": 1.6, "symbolFillColor": "transparent", "labelFontSize": 11, "labelFont": "Liberation Sans", "labelColor": "black", "labelAlign": "right", "labelOffset": -32, "rowPadding": -2, "labelLimit": 300}},
        "strokeDash": {"field": "s", "type": "nominal",
          "scale": {"domain": ["MB, E = 10 GeV", "DB, E = 2.4 GeV", "DB, E = 0.24 GeV", "MB, E = 1.5 TeV"], "range": [[1, 0], [4, 2], [2, 2], [5, 2, 1, 2]]}}
      }
    },
    {
      "mark": {"type": "line", "opacity": 0},
      "encoding": {
        "x": {"field": "E", "type": "quantitative", "scale": {"type": "log", "domain": [0.0001, 100], "nice": false},
          "axis": {"orient": "top", "title": null, "labels": false,
            "values": [0.0001,0.0002,0.0005,0.0008,0.001,0.002,0.005,0.008,0.01,0.02,0.05,0.08,0.1,0.2,0.5,0.8,1,2,5,8,10,20,50,80,100],
            "tickSize": {"condition": {"test": "abs(log(datum.value)/LN10 - round(log(datum.value)/LN10)) < 0.01", "value": -5}, "value": -3}}},
        "y": {"field": "v", "type": "quantitative", "scale": {"type": "log", "domain": [1e-14, 0.0001], "nice": false},
          "axis": {"orient": "right", "title": null, "labels": false,
            "values": [1e-14,1e-13,1e-12,1e-11,1e-10,1e-9,1e-8,1e-7,1e-6,1e-5,1e-4],
            "tickSize": -5}}
      }
    }
  ],
  "resolve": {"axis": {"x": "independent", "y": "independent"}}
}
